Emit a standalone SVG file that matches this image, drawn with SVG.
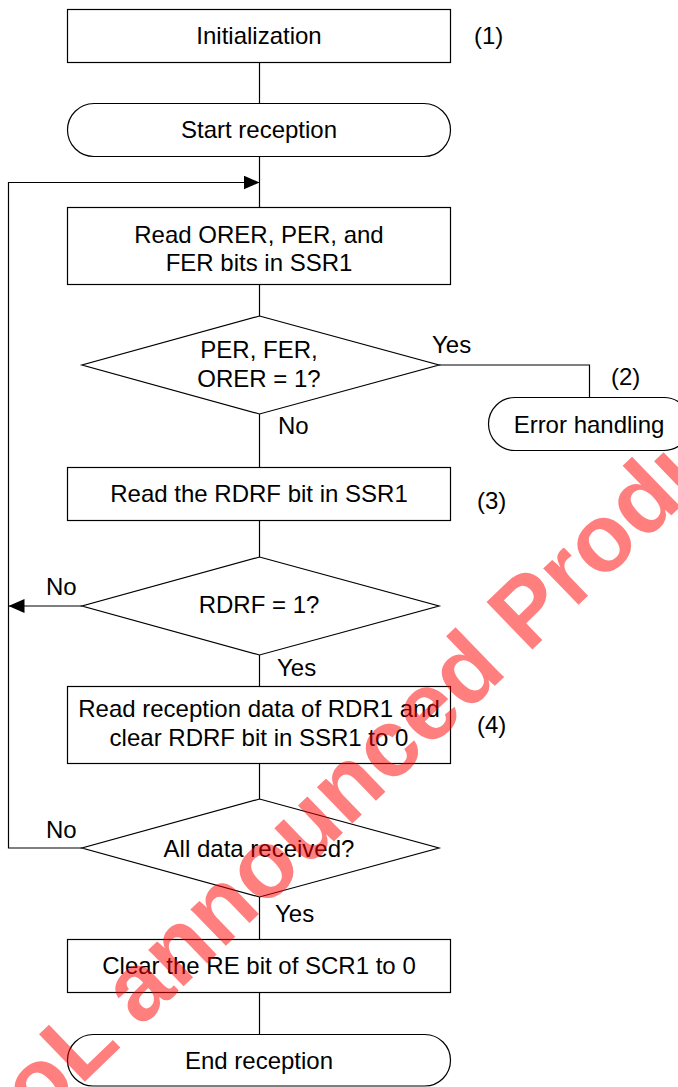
<svg xmlns="http://www.w3.org/2000/svg" width="678" height="1087" viewBox="0 0 678 1087">
<style>
.box{fill:#fff;stroke:#000;stroke-width:1.2}
.ln{fill:none;stroke:#000;stroke-width:1.2}
text{font-family:"Liberation Sans",Arial,sans-serif;font-size:24px;fill:#000}
.c{text-anchor:middle}
.wm{font-family:"Liberation Sans",Arial,sans-serif;font-weight:bold;font-size:96px;fill:#ff0000;fill-opacity:0.5}
</style>
<defs>
<marker id="ah" markerUnits="userSpaceOnUse" markerWidth="18" markerHeight="14" refX="16" refY="7" orient="auto">
<path d="M0,0 L16,7 L0,14 Z" fill="#000"/>
</marker>
</defs>
<rect x="0" y="0" width="678" height="1087" fill="#fff"/>
<g id="connectors">
<line class="ln" x1="259.5" y1="62.5" x2="259.5" y2="103.5"/>
<line class="ln" x1="259.5" y1="156.5" x2="259.5" y2="207.5"/>
<line class="ln" x1="259.5" y1="284.5" x2="259.5" y2="316"/>
<polyline class="ln" points="439,365 589.5,365 589.5,397.5"/>
<line class="ln" x1="259.5" y1="414" x2="259.5" y2="467.5"/>
<line class="ln" x1="259.5" y1="520.5" x2="259.5" y2="557"/>
<line class="ln" x1="82" y1="606" x2="8.5" y2="606" marker-end="url(#ah)"/>
<line class="ln" x1="259.5" y1="655" x2="259.5" y2="686.5"/>
<line class="ln" x1="259.5" y1="763.5" x2="259.5" y2="799"/>
<path class="ln" d="M82,848 H8.5 V182.5 H259.5" marker-end="url(#ah)"/>
<line class="ln" x1="259.5" y1="897" x2="259.5" y2="939.5"/>
<line class="ln" x1="259.5" y1="992.5" x2="259.5" y2="1034.5"/>
<text x="432" y="353">Yes</text>
<text x="278" y="434">No</text>
<text x="46" y="595">No</text>
<text x="277" y="676">Yes</text>
<text x="46" y="838">No</text>
<text x="275" y="922">Yes</text>
</g>
<g id="init">
<rect class="box" x="67.5" y="9.5" width="383" height="53"/>
<text class="c" x="259" y="44">Initialization</text>
<text x="474" y="44">(1)</text>
</g>
<g id="start">
<rect class="box" x="67.5" y="103.5" width="383" height="53" rx="26.5"/>
<text class="c" x="259" y="138">Start reception</text>
</g>
<g id="read-errors">
<rect class="box" x="67.5" y="207.5" width="383" height="77"/>
<text class="c" x="259" y="243">Read ORER, PER, and</text>
<text class="c" x="259" y="271">FER bits in SSR1</text>
</g>
<g id="check-errors">
<polygon class="box" points="259.5,316 439,365 259.5,414 82,365"/>
<text class="c" x="259" y="358">PER, FER,</text>
<text class="c" x="259" y="387">ORER = 1?</text>
</g>
<g id="error-handling">
<rect class="box" x="488.5" y="397.5" width="202" height="53" rx="26.5"/>
<text class="c" x="589" y="433">Error handling</text>
<text x="611" y="385">(2)</text>
</g>
<g id="read-rdrf">
<rect class="box" x="67.5" y="467.5" width="383" height="53"/>
<text class="c" x="259" y="502">Read the RDRF bit in SSR1</text>
<text x="477" y="509">(3)</text>
</g>
<g id="check-rdrf">
<polygon class="box" points="259.5,557 439,606 259.5,655 82,606"/>
<text class="c" x="259" y="613">RDRF = 1?</text>
</g>
<g id="read-data">
<rect class="box" x="67.5" y="686.5" width="383" height="77"/>
<text class="c" x="259" y="717">Read reception data of RDR1 and</text>
<text class="c" x="259" y="746">clear RDRF bit in SSR1 to 0</text>
<text x="477" y="733">(4)</text>
</g>
<g id="check-all">
<polygon class="box" points="259.5,799 439,848 259.5,897 82,848"/>
<text class="c" x="259" y="857">All data received?</text>
</g>
<g id="clear-re">
<rect class="box" x="67.5" y="939.5" width="383" height="53"/>
<text class="c" x="259" y="974">Clear the RE bit of SCR1 to 0</text>
</g>
<g id="end">
<rect class="box" x="67.5" y="1034.5" width="383" height="51.5" rx="25.75"/>
<text class="c" x="259" y="1069">End reception</text>
</g>
<text class="wm" transform="translate(38,1127) rotate(-44)">oL announced Produ</text>
</svg>
